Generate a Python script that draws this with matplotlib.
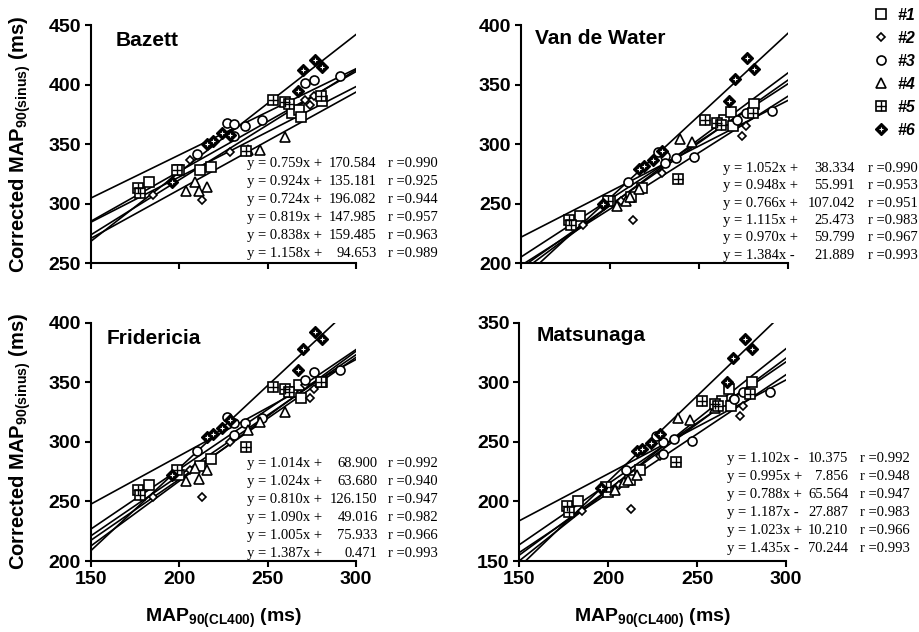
import matplotlib
matplotlib.use('Agg')
import matplotlib.pyplot as plt
from matplotlib.lines import Line2D
from matplotlib.legend_handler import HandlerTuple
import numpy as np

plt.rcParams['font.family'] = 'Liberation Sans'
plt.rcParams['mathtext.fontset'] = 'custom'
plt.rcParams['mathtext.rm'] = 'Liberation Sans'
plt.rcParams['mathtext.bf'] = 'Liberation Sans:bold'

# --- data ---
patients = ['#1', '#2', '#3', '#4', '#5', '#6']

# MAP90(CL400) per patient (same in every panel)
x_p1 = [183, 200, 212, 218, 264, 268, 269, 281]
x_p2 = [185, 206, 213, 229, 271, 274, 276]
x_p3 = [210, 227, 231, 231, 237, 247, 271, 276, 291]
x_p4 = [204, 209, 211, 216, 239, 246, 260]
x_p5 = [177, 178, 199, 238, 253, 260, 262, 280]
x_p6 = [196, 216, 219, 224, 229, 267, 270, 277, 281]

# corrected MAP90(sinus)
bazett_1 = [318, 328, 328, 331, 376, 379, 373, 386]
bazett_2 = [307, 337, 303, 343, 387, 383, 390]
bazett_3 = [342, 368, 367, 357, 365, 370, 401, 404, 407]
bazett_4 = [311, 318, 311, 314, 345, 345, 356]
bazett_5 = [313, 309, 328, 344, 387, 385, 384, 390]
bazett_6 = [318, 350, 353, 359, 358, 395, 412, 421, 415]

vdw_1 = [240, 252, 256, 263, 320, 327, 315, 334]
vdw_2 = [232, 252, 236, 276, 320, 307, 315]
vdw_3 = [268, 293, 290, 284, 288, 289, 320, 326, 328]
vdw_4 = [248, 252, 256, 262, 304, 302, 318]
vdw_5 = [236, 232, 252, 271, 320, 318, 316, 326]
vdw_6 = [250, 279, 282, 287, 294, 336, 355, 372, 363]

frid_1 = [264, 272, 280, 286, 342, 348, 337, 350]
frid_2 = [254, 276, 254, 300, 348, 337, 344]
frid_3 = [292, 321, 316, 306, 316, 320, 352, 359, 360]
frid_4 = [267, 278, 269, 276, 310, 317, 325]
frid_5 = [260, 255, 276, 296, 346, 344, 342, 350]
frid_6 = [272, 304, 307, 312, 318, 360, 378, 392, 386]

mats_1 = [200, 208, 218, 226, 284, 294, 280, 300]
mats_2 = [192, 214, 194, 238, 287, 272, 280]
mats_3 = [226, 255, 250, 240, 252, 251, 286, 292, 292]
mats_4 = [210, 216, 218, 222, 270, 268, 278]
mats_5 = [196, 191, 212, 233, 284, 282, 280, 290]
mats_6 = [211, 242, 244, 249, 257, 300, 320, 336, 328]

# regression lines
bazett_slope = [0.759, 0.924, 0.724, 0.819, 0.838, 1.158]
bazett_icpt = [170.584, 135.181, 196.082, 147.985, 159.485, 94.653]
bazett_r = [0.990, 0.925, 0.944, 0.957, 0.963, 0.989]
vdw_slope = [1.052, 0.948, 0.766, 1.115, 0.970, 1.384]
vdw_icpt = [38.334, 55.991, 107.042, 25.473, 59.799, -21.889]
vdw_r = [0.990, 0.953, 0.951, 0.983, 0.967, 0.993]
frid_slope = [1.014, 1.024, 0.810, 1.090, 1.005, 1.387]
frid_icpt = [68.900, 63.680, 126.150, 49.016, 75.933, 0.471]
frid_r = [0.992, 0.940, 0.947, 0.982, 0.966, 0.993]
mats_slope = [1.102, 0.995, 0.788, 1.187, 1.023, 1.435]
mats_icpt = [-10.375, 7.856, 65.564, -27.887, 10.210, -70.244]
mats_r = [0.992, 0.948, 0.947, 0.983, 0.966, 0.993]

xs = [x_p1, x_p2, x_p3, x_p4, x_p5, x_p6]
panels = [
    dict(name='Bazett', ys=[bazett_1, bazett_2, bazett_3, bazett_4, bazett_5, bazett_6],
         slope=bazett_slope, icpt=bazett_icpt, r=bazett_r, yticks=[250, 300, 350, 400, 450],
         rect=(90.7, 25, 265.3), title=(0.095, 0.937), eq=(247, 376.7, 388, 163.3, 18.1)),
    dict(name='Van de Water', ys=[vdw_1, vdw_2, vdw_3, vdw_4, vdw_5, vdw_6],
         slope=vdw_slope, icpt=vdw_icpt, r=vdw_r, yticks=[200, 250, 300, 350, 400],
         rect=(521, 25, 267.3), title=(0.052, 0.944), eq=(723, 855, 868, 168.3, 17.4)),
    dict(name='Fridericia', ys=[frid_1, frid_2, frid_3, frid_4, frid_5, frid_6],
         slope=frid_slope, icpt=frid_icpt, r=frid_r, yticks=[200, 250, 300, 350, 400],
         rect=(90.7, 322.7, 265.3), title=(0.060, 0.934), eq=(247, 377.7, 388, 463.3, 18.0)),
    dict(name='Matsunaga', ys=[mats_1, mats_2, mats_3, mats_4, mats_5, mats_6],
         slope=mats_slope, icpt=mats_icpt, r=mats_r, yticks=[150, 200, 250, 300, 350],
         rect=(519.3, 322.7, 266.7), title=(0.065, 0.948), eq=(726.7, 848.3, 860, 458.3, 18.0)),
]

W, H = 920, 632
AX_H = 238.3

# marker style per patient: list of (marker, size, face, edge, mew) layers
styles = [
    [('s', 7.0, 'white', 'black', 1.2)],
    [('D', 4.5, 'white', 'black', 1.2)],
    [('o', 6.5, 'white', 'black', 1.2)],
    [('^', 7.0, 'white', 'black', 1.2)],
    [('s', 6.5, 'white', 'black', 1.2), ('+', 6.5, 'none', 'black', 1.0)],
    [('D', 6.5, 'black', 'black', 1.0), ('+', 3.5, 'none', 'white', 0.8)],
]

fig = plt.figure(figsize=(9.2, 6.32), dpi=100)

line_x = np.array([150, 300])
for i, p in enumerate(panels):
    left, top, width = p['rect']
    ax = fig.add_axes([left / W, 1 - (top + AX_H) / H, width / W, AX_H / H])
    for s, b in zip(p['slope'], p['icpt']):
        ax.plot(line_x, s * line_x + b, color='black', lw=1.2, zorder=2)
    for k in range(6):
        for mk, ms, fc, ec, mew in styles[k]:
            ax.plot(xs[k], p['ys'][k], linestyle='none', marker=mk, ms=ms,
                    mfc=fc, mec=ec, mew=mew, zorder=3 + 0.1 * k)
    ax.set_xlim(150, 300)
    ax.set_ylim(p['yticks'][0], p['yticks'][-1])
    ax.set_xticks([150, 200, 250, 300])
    ax.set_yticks(p['yticks'])
    for sp in ('top', 'right'):
        ax.spines[sp].set_visible(False)
    for sp in ('left', 'bottom'):
        ax.spines[sp].set_linewidth(1.5)
    ax.tick_params(direction='out', length=4, width=1.5, labelsize=14, pad=3)
    for lab in ax.get_xticklabels() + ax.get_yticklabels():
        lab.set_fontweight('bold')
    if i < 2:
        ax.tick_params(labelbottom=False)
    else:
        ax.set_xlabel(r'MAP$_{\mathbf{90(CL400)}}$ (ms)', fontsize=14, fontweight='bold')
        ax.xaxis.set_label_coords(0.5, -0.19)
    if i % 2 == 0:
        ax.set_ylabel(r'Corrected MAP$_{\mathbf{90(sinus)}}$ (ms)', fontsize=14.5, fontweight='bold')
        ax.yaxis.set_label_coords(-(left - 33) / width, 0.5)
    ax.text(p['title'][0], p['title'][1], p['name'], transform=ax.transAxes,
            fontsize=15, fontweight='bold', va='center', ha='left')

    # regression equations
    x0, num_r, r_x, y0, dy = p['eq']
    for j, (s, b, r) in enumerate(zip(p['slope'], p['icpt'], p['r'])):
        yy = 1 - (y0 + j * dy) / H
        sign = '+' if b >= 0 else '-'
        kw = dict(fontsize=10.5, family='Liberation Serif', va='center')
        fig.text(x0 / W, yy, f'y = {s:.3f}x {sign}', ha='left', **kw)
        fig.text(num_r / W, yy, f'{abs(b):.3f}', ha='right', **kw)
        fig.text(r_x / W, yy, f'r ={r:.3f}', ha='left', **kw)

# legend (top right corner)
handles = []
for k in range(6):
    layers = tuple(Line2D([], [], linestyle='none', marker=mk, ms=ms, mfc=fc, mec=ec, mew=mew)
                   for mk, ms, fc, ec, mew in styles[k])
    handles.append(layers)
fig.legend(handles, patients, handler_map={tuple: HandlerTuple(ndivide=1)},
           loc='upper left', bbox_to_anchor=(874 / W, 1 - 8 / H), frameon=False,
           prop=dict(family='Liberation Sans', weight='bold', style='italic', size=11.5),
           handlelength=0.9, handletextpad=0.6, labelspacing=0.5,
           borderpad=0, borderaxespad=0)

fig.savefig('out.png', dpi=100)
